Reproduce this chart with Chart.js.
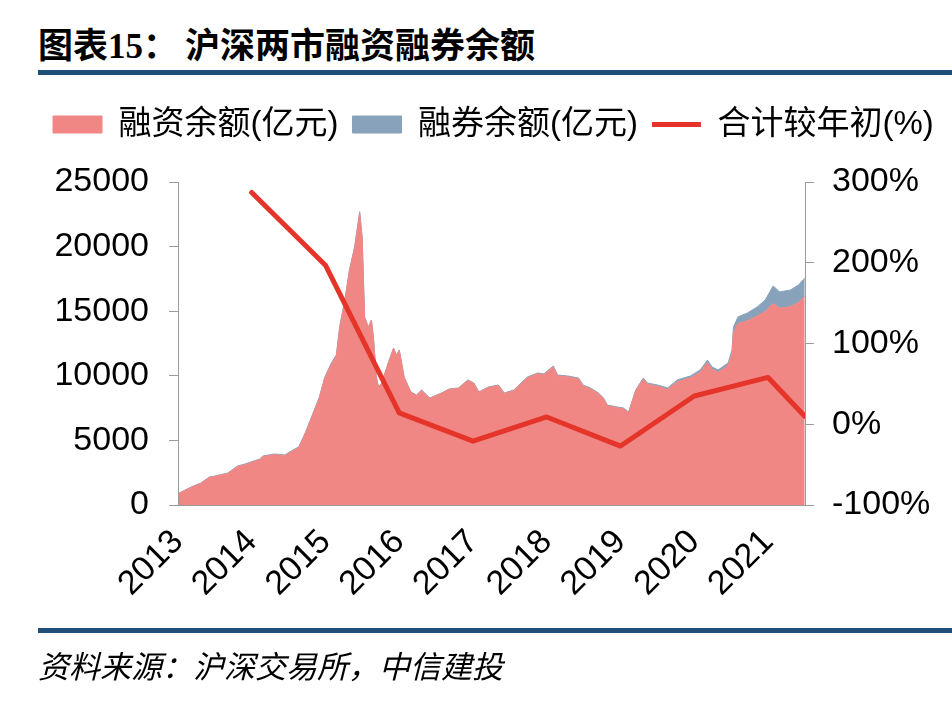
<!DOCTYPE html>
<html lang="zh-CN">
<head>
<meta charset="utf-8">
<title>沪深两市融资融券余额</title>
<script src="https://cdn.jsdelivr.net/npm/chart.js@4.4.1/dist/chart.umd.min.js"></script>
<style>
  html, body { margin: 0; padding: 0; background: #fff; }
  #page { position: relative; width: 952px; height: 710px; overflow: hidden; }
  #wrap { position: absolute; left: 0; top: 0; width: 952px; height: 710px; }
  .rule { position: absolute; left: 38px; width: 914px; height: 5px; background: #1f4e79; }
  .title { position: absolute; top: 25px; font: 700 35px/35px 'Noto Sans CJK SC', sans-serif; color: #000; white-space: nowrap; }
  .title .num { font-family: 'Liberation Serif', serif; }
  .source { position: absolute; left: 38px; top: 648px; font: italic 31px/34px 'Noto Sans CJK SC', sans-serif; color: #000; white-space: nowrap; }
</style>
</head>
<body>
<div id="page">
  <div class="title" style="left:38px">图表<span class="num">15</span>：</div>
  <div class="title" style="left:185px">沪深两市融资融券余额</div>
  <div class="rule" style="top:70px"></div>
  <div id="wrap"><canvas id="chart"></canvas></div>
  <div class="rule" style="top:628px"></div>
  <div class="source">资料来源：沪深交易所，中信建投</div>
</div>
<script>
// Margin balances (亿元), by trading date.
const DATES = [
  '2013-01-04', '2013-03-05', '2013-04-22', '2013-06-05', '2013-07-01', '2013-09-05', '2013-10-22', '2013-11-28',
  '2014-02-10', '2014-02-25', '2014-04-22', '2014-06-12', '2014-07-31', '2014-08-20', '2014-09-20', '2014-10-23',
  '2014-12-01', '2014-12-28', '2015-01-30', '2015-02-24', '2015-03-10', '2015-04-05', '2015-04-28', '2015-05-23',
  '2015-06-18', '2015-06-30', '2015-07-12', '2015-07-31', '2015-08-15', '2015-08-25', '2015-09-09', '2015-09-20',
  '2015-10-05', '2015-11-07', '2015-12-03', '2015-12-17', '2016-01-01', '2016-01-25', '2016-02-28', '2016-03-25',
  '2016-04-20', '2016-05-30', '2016-07-27', '2016-09-05', '2016-10-20', '2016-12-06', '2017-01-05', '2017-01-30',
  '2017-03-15', '2017-05-05', '2017-06-03', '2017-07-20', '2017-08-25', '2017-09-27', '2017-11-17', '2017-12-17',
  '2018-02-03', '2018-02-24', '2018-04-12', '2018-06-06', '2018-06-28', '2018-08-04', '2018-09-13', '2018-10-08',
  '2018-10-27', '2018-12-15', '2019-01-15', '2019-02-10', '2019-03-15', '2019-04-22', '2019-05-12', '2019-07-01',
  '2019-08-21', '2019-10-08', '2019-12-12', '2020-01-30', '2020-03-05', '2020-03-28', '2020-04-27', '2020-06-16',
  '2020-07-05', '2020-07-12', '2020-08-04', '2020-09-20', '2020-11-08', '2020-12-17', '2021-01-26', '2021-02-28',
  '2021-04-20', '2021-05-30', '2021-06-30',
];
const FINANCING = [
  880, 1360, 1670, 2140, 2210, 2440, 2980, 3120,
  3510, 3740, 3900, 3820, 4270, 4430, 5440, 6740,
  8290, 9840, 10910, 11530, 13690, 15780, 18090, 19870,
  22600, 20660, 14490, 13740, 14280, 12970, 9880, 9100,
  9410, 10960, 12120, 11580, 11970, 9880, 8720, 8480,
  8870, 8250, 8640, 8950, 9030, 9640, 9400, 8710,
  9090, 9250, 8630, 8850, 9390, 9850, 10160, 10090,
  10690, 9990, 9920, 9760, 9220, 9000, 8610, 8220,
  7680, 7530, 7450, 7140, 8830, 9740, 9350, 9190,
  8940, 9550, 9840, 10270, 11020, 10500, 10270, 10790,
  11700, 13310, 14050, 14260, 14630, 14970, 15600, 15240,
  15340, 15680, 16120,
];
const LENDING = [
  20, 30, 30, 30, 30, 40, 40, 50,
  50, 50, 50, 50, 60, 60, 60, 70,
  70, 70, 80, 80, 90, 90, 100, 100,
  100, 80, 60, 40, 40, 30, 30, 30,
  30, 30, 30, 30, 30, 30, 30, 30,
  30, 30, 30, 30, 30, 40, 40, 40,
  40, 40, 40, 50, 50, 60, 60, 60,
  70, 70, 70, 70, 70, 60, 60, 60,
  60, 60, 60, 60, 70, 90, 90, 100,
  120, 130, 150, 180, 200, 180, 180, 200,
  300, 470, 500, 600, 700, 900, 1350, 1250,
  1300, 1350, 1450,
];

// Change of the combined balance versus the start of each year (%).
const CHANGE_DATES = ['2013-12-31', '2014-12-31', '2015-12-31', '2016-12-31', '2017-12-31', '2018-12-31', '2019-12-31', '2020-12-31', '2021-06-30'];
const CHANGE = [287, 197, 14, -21, 9, -27, 35, 58, 10];

const YEARS = [2013, 2014, 2015, 2016, 2017, 2018, 2019, 2020, 2021];
const YEAR_LABELS = ['2013', '2014', '2015', '2016', '2017', '2018', '2019', '2020', '2021'];
const AMOUNT_TICKS = [0, 5000, 10000, 15000, 20000, 25000];
const PCT_TICKS = [-100, 0, 100, 200, 300];

const LEGEND = ['融资余额(亿元)', '融券余额(亿元)', '合计较年初(%)'];

// decimal year, so the x axis is a plain linear scale
const toYear = (s) => {
  const [y, m, d] = s.split('-').map(Number);
  return y + (m - 1) / 12 + (d - 1) / 365;
};

const pink = '#f08784', slate = '#87a2ba', red = '#e5352a', axisGrey = '#9a9a9a';
const tickFont = { family: "'Liberation Sans', Arial, sans-serif", size: 34 };

Chart.defaults.font.family = "'Liberation Sans', 'Noto Sans CJK SC', sans-serif";
Chart.defaults.color = '#000';

// push the plot area down below the legend, as in the source layout
const legendGap = {
  id: 'legendGap',
  beforeInit(chart) {
    const fit = chart.legend.fit;
    chart.legend.fit = function () {
      fit.call(this);
      this.height += 31;
    };
  },
};

new Chart(document.getElementById('chart'), {
  type: 'line',
  data: {
    datasets: [
      {
        label: LEGEND[0],
        data: DATES.map((d, i) => ({ x: toYear(d), y: FINANCING[i] })),
        yAxisID: 'y', order: 1,
        backgroundColor: pink, borderColor: pink, borderWidth: 1,
        fill: 'origin', pointRadius: 0, pointStyle: 'rect', tension: 0,
      },
      {
        label: LEGEND[1],
        data: DATES.map((d, i) => ({ x: toYear(d), y: LENDING[i] })),
        yAxisID: 'y', order: 2,
        backgroundColor: slate, borderColor: slate, borderWidth: 1,
        fill: '-1', pointRadius: 0, pointStyle: 'rect', tension: 0,
      },
      {
        label: LEGEND[2],
        data: CHANGE_DATES.map((d, i) => ({ x: toYear(d), y: CHANGE[i] })),
        yAxisID: 'y2', order: 0,
        borderColor: red, backgroundColor: red, borderWidth: 5,
        borderCapStyle: 'round', borderJoinStyle: 'round',
        fill: false, pointRadius: 0, pointStyle: 'line', tension: 0,
      },
    ],
  },
  plugins: [legendGap],
  options: {
    responsive: true,
    maintainAspectRatio: false,
    animation: false,
    layout: { padding: { left: 39, right: 0, top: 94, bottom: 0 } },
    plugins: {
      tooltip: { enabled: false },
      legend: {
        position: 'top',
        align: 'start',
        labels: {
          usePointStyle: true,
          pointStyleWidth: 49,
          boxHeight: 17,
          padding: 14,
          color: '#000',
          font: { family: "'Liberation Sans', 'Noto Sans CJK SC', sans-serif", size: 33 },
          sort: (a, b) => a.datasetIndex - b.datasetIndex,
        },
      },
    },
    scales: {
      x: {
        type: 'linear',
        min: 2013,
        max: 2021.5,
        afterBuildTicks: (s) => { s.ticks = YEARS.map((v) => ({ value: v })); },
        afterFit: (s) => { s.height = 205; },
        grid: { display: false, drawTicks: false },
        border: { display: true, color: axisGrey, width: 1 },
        ticks: {
          autoSkip: false,
          minRotation: 45,
          maxRotation: 45,
          padding: 17,
          font: tickFont,
          color: '#000',
          callback: (v, i) => YEAR_LABELS[i],
        },
      },
      y: {
        position: 'left',
        stacked: true,
        min: 0,
        max: 25000,
        afterBuildTicks: (s) => { s.ticks = AMOUNT_TICKS.map((v) => ({ value: v })); },
        afterFit: (s) => { s.width = 139; },
        grid: { drawOnChartArea: false, drawTicks: true, tickLength: 9, color: axisGrey },
        border: { display: true, color: axisGrey, width: 1 },
        ticks: { padding: 20, font: tickFont, color: '#000', callback: (v) => String(v) },
      },
      y2: {
        position: 'right',
        min: -100,
        max: 300,
        afterBuildTicks: (s) => { s.ticks = PCT_TICKS.map((v) => ({ value: v })); },
        afterFit: (s) => { s.width = 147; },
        grid: { drawOnChartArea: false, drawTicks: true, tickLength: 9, color: axisGrey },
        border: { display: true, color: axisGrey, width: 1 },
        ticks: { padding: 18, font: tickFont, color: '#000', callback: (v) => `${v}%` },
      },
    },
  },
});
</script>
</body>
</html>
